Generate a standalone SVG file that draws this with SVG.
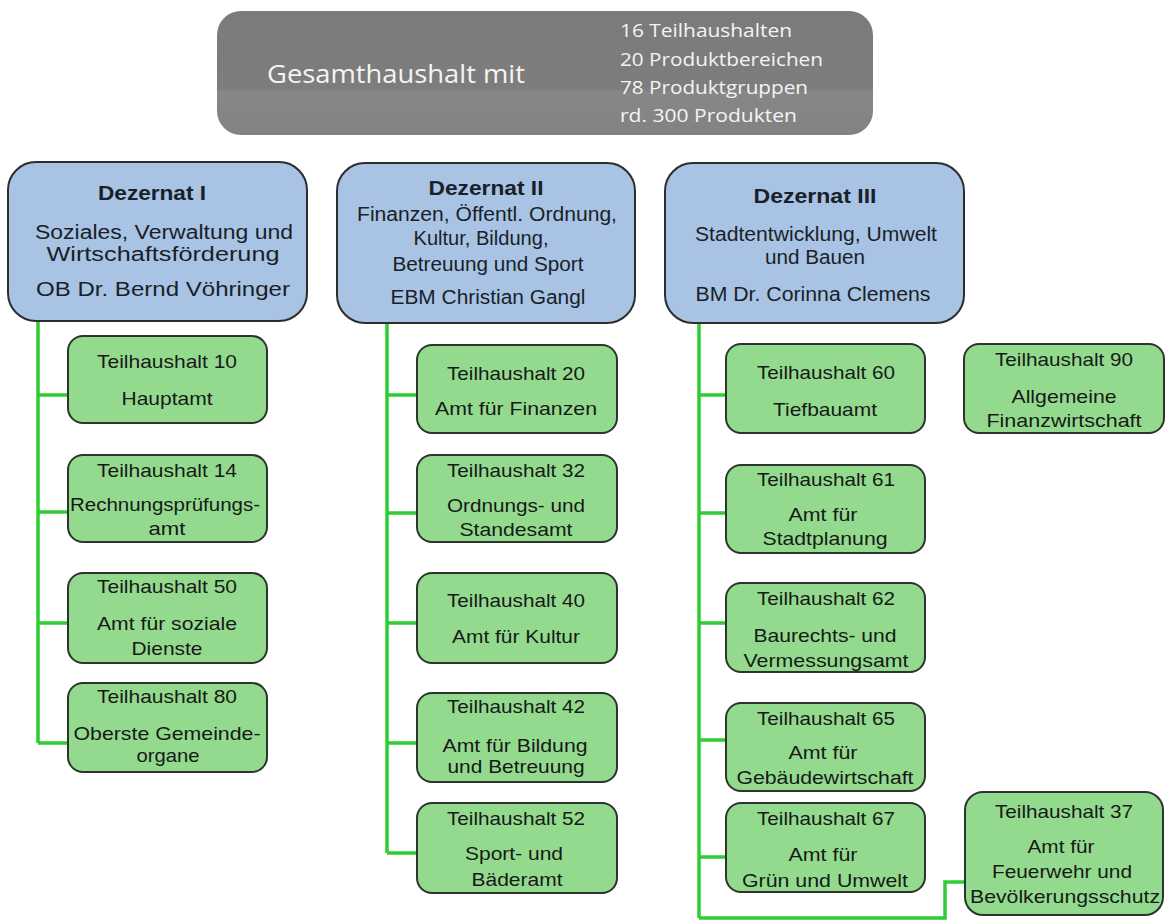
<svg xmlns="http://www.w3.org/2000/svg" width="1168" height="920" viewBox="0 0 1168 920">
<defs>
<linearGradient id="hdr" x1="0" y1="0" x2="0" y2="1">
<stop offset="0" stop-color="#7b7b7b"/>
<stop offset="0.62" stop-color="#7d7d7d"/>
<stop offset="0.66" stop-color="#878787"/>
<stop offset="1" stop-color="#828282"/>
</linearGradient>
<style>
.hdr-t{font-family:"Open Sans","Liberation Sans",sans-serif;fill:#f4f4f4;}
.dz rect{fill:#a8c3e4;stroke:#2d2d2d;stroke-width:2;}
.dz text{font-family:"Liberation Sans",Arial,sans-serif;font-size:19.5px;fill:#1a1f28;text-anchor:middle;}
.dz text.b{font-weight:bold;font-size:20px;}
.th rect{fill:#93da8f;stroke:#2b352b;stroke-width:2;}
.th text{font-family:"Liberation Sans",Arial,sans-serif;font-size:18.5px;fill:#161a16;text-anchor:middle;}
.con path{fill:none;stroke:#2fcc33;stroke-width:3.5;}
</style>
</defs>
<rect width="1168" height="920" fill="#ffffff"/>

<g id="header">
<rect x="217" y="11" width="656" height="124" rx="24" fill="url(#hdr)"/>
<text class="hdr-t" x="267" y="83" font-size="26" textLength="258" lengthAdjust="spacingAndGlyphs">Gesamthaushalt mit</text>
<text class="hdr-t" x="620" y="37" font-size="18" textLength="172" lengthAdjust="spacingAndGlyphs">16 Teilhaushalten</text>
<text class="hdr-t" x="620" y="66" font-size="18" textLength="203" lengthAdjust="spacingAndGlyphs">20 Produktbereichen</text>
<text class="hdr-t" x="620" y="94" font-size="18" textLength="188" lengthAdjust="spacingAndGlyphs">78 Produktgruppen</text>
<text class="hdr-t" x="620" y="122" font-size="18" textLength="177" lengthAdjust="spacingAndGlyphs">rd. 300 Produkten</text>
</g>

<g class="con" id="connectors">
<path d="M38 322 V743 M38 395 H68 M38 512 H68 M38 623 H68 M38 743 H68"/>
<path d="M387 322 V853 M387 395 H417 M387 513 H417 M387 623 H417 M387 743 H417 M387 853 H417"/>
<path d="M699 322 V918 M699 395 H726 M699 513 H726 M699 623 H726 M699 740 H726 M699 857 H726"/>
<path d="M699 918 H945 V882 H965"/>
</g>

<g class="dz" id="dezernat1">
<rect x="8" y="162" width="299" height="159" rx="28"/>
<text class="b" x="152" y="200" textLength="108" lengthAdjust="spacingAndGlyphs">Dezernat I</text>
<text x="164" y="239" textLength="258" lengthAdjust="spacingAndGlyphs">Soziales, Verwaltung und</text>
<text x="163" y="261" textLength="233" lengthAdjust="spacingAndGlyphs">Wirtschaftsförderung</text>
<text x="163" y="296" textLength="254" lengthAdjust="spacingAndGlyphs">OB Dr. Bernd Vöhringer</text>
</g>

<g class="dz" id="dezernat2">
<rect x="337" y="163" width="298" height="160" rx="28"/>
<text class="b" x="486" y="195" textLength="115" lengthAdjust="spacingAndGlyphs">Dezernat II</text>
<text x="487" y="221" textLength="260" lengthAdjust="spacingAndGlyphs">Finanzen, Öffentl. Ordnung,</text>
<text x="481" y="245" textLength="135" lengthAdjust="spacingAndGlyphs">Kultur, Bildung,</text>
<text x="488" y="271" textLength="191" lengthAdjust="spacingAndGlyphs">Betreuung und Sport</text>
<text x="488" y="304" textLength="195" lengthAdjust="spacingAndGlyphs">EBM Christian Gangl</text>
</g>

<g class="dz" id="dezernat3">
<rect x="665" y="163" width="299" height="160" rx="28"/>
<text class="b" x="815" y="203" textLength="123" lengthAdjust="spacingAndGlyphs">Dezernat III</text>
<text x="816" y="241" textLength="242" lengthAdjust="spacingAndGlyphs">Stadtentwicklung, Umwelt</text>
<text x="815" y="264" textLength="100" lengthAdjust="spacingAndGlyphs">und Bauen</text>
<text x="813" y="301" textLength="235" lengthAdjust="spacingAndGlyphs">BM Dr. Corinna Clemens</text>
</g>

<g class="th" id="th10">
<rect x="68" y="336" width="199" height="87" rx="15"/>
<text x="167" y="368" textLength="140" lengthAdjust="spacingAndGlyphs">Teilhaushalt 10</text>
<text x="167" y="405" textLength="91" lengthAdjust="spacingAndGlyphs">Hauptamt</text>
</g>
<g class="th" id="th14">
<rect x="68" y="455" width="199" height="87" rx="15"/>
<text x="167" y="477" textLength="140" lengthAdjust="spacingAndGlyphs">Teilhaushalt 14</text>
<text x="165" y="511" textLength="190" lengthAdjust="spacingAndGlyphs">Rechnungsprüfungs-</text>
<text x="167" y="535" textLength="37" lengthAdjust="spacingAndGlyphs">amt</text>
</g>
<g class="th" id="th50">
<rect x="68" y="573" width="199" height="90" rx="15"/>
<text x="167" y="593" textLength="140" lengthAdjust="spacingAndGlyphs">Teilhaushalt 50</text>
<text x="167" y="630" textLength="140" lengthAdjust="spacingAndGlyphs">Amt für soziale</text>
<text x="167" y="655" textLength="71" lengthAdjust="spacingAndGlyphs">Dienste</text>
</g>
<g class="th" id="th80">
<rect x="68" y="683" width="199" height="89" rx="15"/>
<text x="167" y="703" textLength="140" lengthAdjust="spacingAndGlyphs">Teilhaushalt 80</text>
<text x="167" y="740" textLength="187" lengthAdjust="spacingAndGlyphs">Oberste Gemeinde-</text>
<text x="168" y="762" textLength="63" lengthAdjust="spacingAndGlyphs">organe</text>
</g>

<g class="th" id="th20">
<rect x="417" y="345" width="200" height="88" rx="15"/>
<text x="516" y="380" textLength="138" lengthAdjust="spacingAndGlyphs">Teilhaushalt 20</text>
<text x="516" y="415" textLength="162" lengthAdjust="spacingAndGlyphs">Amt für Finanzen</text>
</g>
<g class="th" id="th32">
<rect x="417" y="455" width="200" height="87" rx="15"/>
<text x="516" y="477" textLength="138" lengthAdjust="spacingAndGlyphs">Teilhaushalt 32</text>
<text x="516" y="512" textLength="138" lengthAdjust="spacingAndGlyphs">Ordnungs- und</text>
<text x="516" y="536" textLength="113" lengthAdjust="spacingAndGlyphs">Standesamt</text>
</g>
<g class="th" id="th40">
<rect x="417" y="573" width="200" height="90" rx="15"/>
<text x="516" y="607" textLength="138" lengthAdjust="spacingAndGlyphs">Teilhaushalt 40</text>
<text x="516" y="643" textLength="128" lengthAdjust="spacingAndGlyphs">Amt für Kultur</text>
</g>
<g class="th" id="th42">
<rect x="417" y="693" width="200" height="89" rx="15"/>
<text x="516" y="713" textLength="138" lengthAdjust="spacingAndGlyphs">Teilhaushalt 42</text>
<text x="515" y="752" textLength="145" lengthAdjust="spacingAndGlyphs">Amt für Bildung</text>
<text x="516" y="773" textLength="137" lengthAdjust="spacingAndGlyphs">und Betreuung</text>
</g>
<g class="th" id="th52">
<rect x="417" y="803" width="200" height="90" rx="15"/>
<text x="516" y="825" textLength="138" lengthAdjust="spacingAndGlyphs">Teilhaushalt 52</text>
<text x="514" y="860" textLength="98" lengthAdjust="spacingAndGlyphs">Sport- und</text>
<text x="517" y="886" textLength="91" lengthAdjust="spacingAndGlyphs">Bäderamt</text>
</g>

<g class="th" id="th60">
<rect x="726" y="344" width="199" height="89" rx="15"/>
<text x="826" y="379" textLength="138" lengthAdjust="spacingAndGlyphs">Teilhaushalt 60</text>
<text x="825" y="416" textLength="104" lengthAdjust="spacingAndGlyphs">Tiefbauamt</text>
</g>
<g class="th" id="th61">
<rect x="726" y="465" width="199" height="88" rx="15"/>
<text x="826" y="486" textLength="138" lengthAdjust="spacingAndGlyphs">Teilhaushalt 61</text>
<text x="823" y="521" textLength="69" lengthAdjust="spacingAndGlyphs">Amt für</text>
<text x="825" y="545" textLength="125" lengthAdjust="spacingAndGlyphs">Stadtplanung</text>
</g>
<g class="th" id="th62">
<rect x="726" y="583" width="199" height="89" rx="15"/>
<text x="826" y="605" textLength="138" lengthAdjust="spacingAndGlyphs">Teilhaushalt 62</text>
<text x="825" y="642" textLength="143" lengthAdjust="spacingAndGlyphs">Baurechts- und</text>
<text x="826" y="667" textLength="165" lengthAdjust="spacingAndGlyphs">Vermessungsamt</text>
</g>
<g class="th" id="th65">
<rect x="726" y="703" width="199" height="88" rx="15"/>
<text x="826" y="725" textLength="138" lengthAdjust="spacingAndGlyphs">Teilhaushalt 65</text>
<text x="823" y="759" textLength="69" lengthAdjust="spacingAndGlyphs">Amt für</text>
<text x="825" y="784" textLength="177" lengthAdjust="spacingAndGlyphs">Gebäudewirtschaft</text>
</g>
<g class="th" id="th67">
<rect x="726" y="803" width="199" height="89" rx="15"/>
<text x="826" y="825" textLength="138" lengthAdjust="spacingAndGlyphs">Teilhaushalt 67</text>
<text x="823" y="861" textLength="69" lengthAdjust="spacingAndGlyphs">Amt für</text>
<text x="825" y="887" textLength="166" lengthAdjust="spacingAndGlyphs">Grün und Umwelt</text>
</g>

<g class="th" id="th90">
<rect x="964" y="344" width="200" height="89" rx="15"/>
<text x="1064" y="366" textLength="138" lengthAdjust="spacingAndGlyphs">Teilhaushalt 90</text>
<text x="1064" y="403" textLength="105" lengthAdjust="spacingAndGlyphs">Allgemeine</text>
<text x="1064" y="427" textLength="155" lengthAdjust="spacingAndGlyphs">Finanzwirtschaft</text>
</g>
<g class="th" id="th37">
<rect x="965" y="792" width="198" height="123" rx="18"/>
<text x="1064" y="818" textLength="138" lengthAdjust="spacingAndGlyphs">Teilhaushalt 37</text>
<text x="1061" y="853" textLength="67" lengthAdjust="spacingAndGlyphs">Amt für</text>
<text x="1062" y="878" textLength="140" lengthAdjust="spacingAndGlyphs">Feuerwehr und</text>
<text x="1065" y="903" textLength="190" lengthAdjust="spacingAndGlyphs">Bevölkerungsschutz</text>
</g>
</svg>
